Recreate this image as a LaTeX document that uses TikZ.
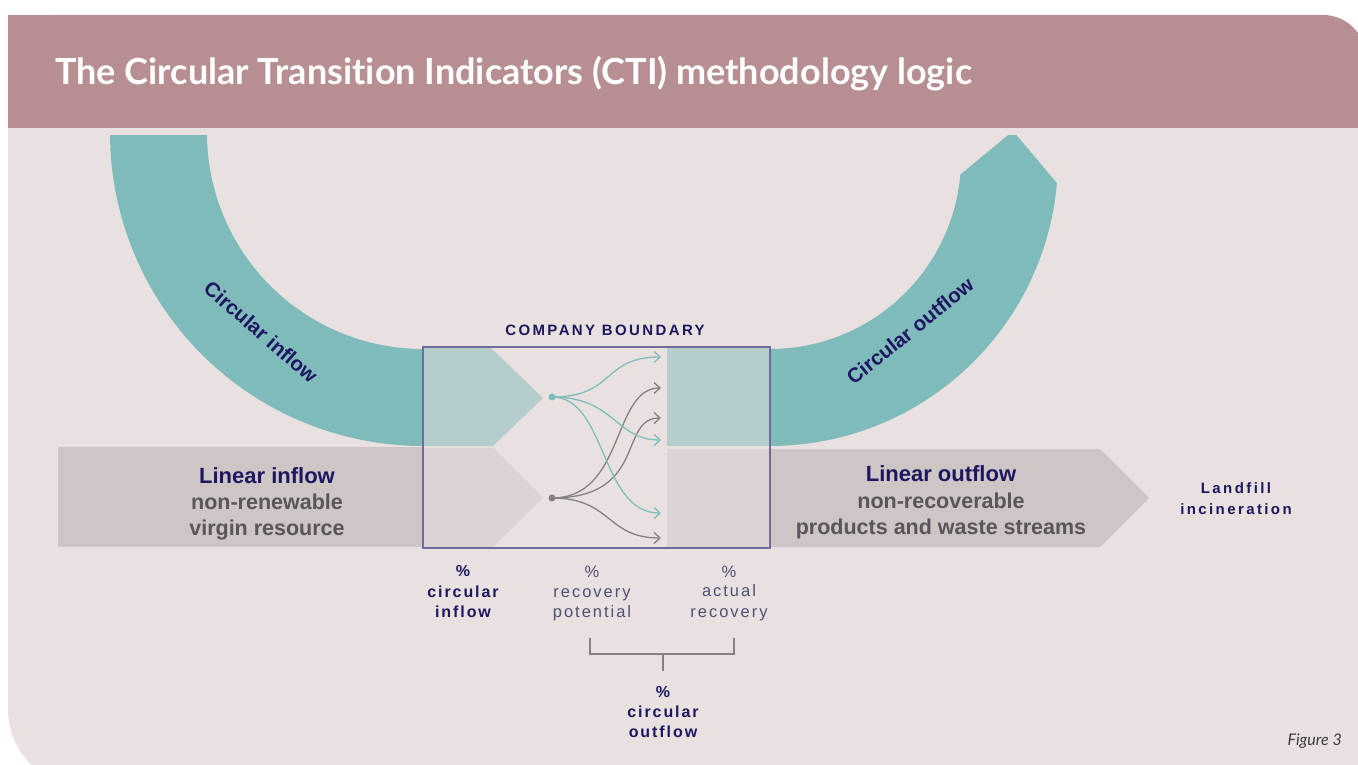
\documentclass[tikz,border=0pt]{standalone}
\usepackage{fontspec}
\setmainfont{Liberation Sans}
\newfontfamily\titlefont[Ligatures=NoCommon]{Lato}
\newfontfamily\spacedfont[LetterSpace=12]{Liberation Sans}
\newfontfamily\widefont[LetterSpace=16]{Liberation Sans}
\usetikzlibrary{arrows.meta,calc}
\definecolor{hdr}{HTML}{B78F93}
\definecolor{bodyc}{HTML}{E9E1E0}
\definecolor{tealc}{HTML}{80BBBB}
\definecolor{ltteal}{HTML}{B6CDCE}
\definecolor{band}{HTML}{CEC5C5}
\definecolor{bandlt}{HTML}{DCD3D3}
\definecolor{navy}{HTML}{1E1660}
\definecolor{graytxt}{HTML}{5A5556}
\definecolor{boxc}{HTML}{6F6B9C}
\definecolor{tline}{HTML}{7FBDBC}
\definecolor{gline}{HTML}{858182}
\definecolor{lblc}{HTML}{514E78}
\definecolor{figc}{HTML}{3A3A3A}
\tikzset{
  txt/.style={inner sep=0pt, anchor=base},
  bignavy/.style={txt, text=navy, font=\bfseries\fontsize{22}{26}\selectfont},
  biggray/.style={txt, text=graytxt, font=\bfseries\fontsize{21.5}{26}\selectfont},
  smallbold/.style={txt, text=navy, font=\spacedfont\bfseries\fontsize{16}{20}\selectfont},
  smalllight/.style={txt, text=lblc, font=\spacedfont\fontsize{16.5}{20}\selectfont},
  widebold/.style={txt, text=navy, font=\widefont\bfseries\fontsize{15}{19}\selectfont},
  arclabel/.style={inner sep=0pt, text=navy, font=\bfseries\fontsize{20.5}{24}\selectfont},
  dotnode/.style={circle, inner sep=0pt, minimum size=7pt},
  tcurve/.style={draw=tline, line width=1.3pt, -{Straight Barb[length=6pt,width=11pt]}},
  gcurve/.style={draw=gline, line width=1.3pt, -{Straight Barb[length=6pt,width=11pt]}},
  bracket/.style={draw=gline, line width=2pt}
}
\begin{document}
\begin{tikzpicture}[x=1pt,y=-1pt]
\useasboundingbox (0,0) rectangle (1358,765);
\fill[white] (0,0) rectangle (1358,765);
% body
\fill[bodyc, rounded corners=75pt] (8,60) rectangle (1420,785);
% header
\fill[hdr, rounded corners=43pt] (8,15) rectangle (1366,128);
\fill[hdr] (8,15) rectangle (120,128);
\fill[hdr] (1250,80) rectangle (1366,128);
\node[txt, anchor=base west, text=white, font=\titlefont\bfseries\fontsize{36}{42}\selectfont] (title) at (55,85) {The Circular Transition Indicators (CTI) methodology logic};

% circular arcs
\begin{scope}
\clip (0,136) rectangle (1358,765);
\fill[tealc] (423,133) ++(185:313) arc[start angle=185,end angle=90,radius=313]
   -- (423,349) arc[start angle=90,end angle=185,radius=216] -- cycle;
\fill[tealc] (770,446) arc[start angle=90,end angle=5,radius=288]
   -- (1013,131) -- (960.3,174.6) arc[start angle=5,end angle=90,radius=191] -- cycle;
\end{scope}

% linear bands
\fill[band] (58,447) rectangle (423,547);
\fill[band] (770,449) -- (1100,449) -- (1149,498) -- (1100,547) -- (770,547) -- cycle;

% inside company boundary
\fill[bodyc] (423,347) rectangle (770,548);
\fill[ltteal] (423,348) -- (491,348) -- (543,398) -- (493,446) -- (423,446) -- cycle;
\fill[bandlt] (423,448) -- (493,448) -- (543,498) -- (493,547) -- (423,547) -- cycle;
\fill[ltteal] (667,348) rectangle (770,446);
\fill[bandlt] (667,449) rectangle (770,547);
\draw[boxc, line width=1.3pt] (423,347) rectangle (770,548);
\node[widebold] (cb) at (605,335) {COMPANY BOUNDARY};

% flows
\node[dotnode, fill=tline] (td) at (552,397) {};
\node[dotnode, fill=gline] (gd) at (552,498) {};
\coordinate (t1) at (661,357);
\coordinate (t2) at (661,440);
\coordinate (t3) at (661,513);
\coordinate (g1) at (661,388);
\coordinate (g2) at (661,418);
\coordinate (g3) at (661,538);
\draw[gcurve] (gd.center) .. controls (625,498) and (612,388) .. (g1);
\draw[gcurve] (gd.center) .. controls (648,498) and (618,418) .. (g2);
\draw[gcurve] (gd.center) .. controls (612,498) and (606,538) .. (g3);
\draw[tcurve] (td.center) .. controls (615,397) and (602,357) .. (t1);
\draw[tcurve] (td.center) .. controls (615,397) and (615,440) .. (t2);
\draw[tcurve] (td.center) .. controls (607,397) and (600,513) .. (t3);

% arc labels
\node[arclabel, rotate=-41] (cin) at (261,332) {Circular inflow};
\node[arclabel, rotate=39] (cout) at (910,331) {Circular outflow};

% linear labels
\node[bignavy] (li1) at (267,483) {Linear inflow};
\node[biggray] (li2) at (267,509) {non-renewable};
\node[biggray] (li3) at (267,535) {virgin resource};
\node[bignavy] (lo1) at (941,481) {Linear outflow};
\node[biggray] (lo2) at (941,508) {non-recoverable};
\node[biggray] (lo3) at (941,534) {products and waste streams};
\node[widebold] (lf1) at (1236,493) {Landfill};
\node[widebold] (lf2) at (1236,514) {incineration};

% indicators
\node[smallbold] (ci1) at (463,576) {\%};
\node[smallbold] (ci2) at (463,597) {circular};
\node[smallbold] (ci3) at (463,617) {inflow};
\node[smalllight] (rp1) at (592,577) {\%};
\node[smalllight] (rp2) at (592,597) {recovery};
\node[smalllight] (rp3) at (592,617) {potential};
\node[smalllight] (ar1) at (729,577) {\%};
\node[smalllight] (ar2) at (729,596) {actual};
\node[smalllight] (ar3) at (729,617) {recovery};

\coordinate (bl) at (590,638);
\coordinate (br) at (734,638);
\coordinate (bm) at (663,654);
\coordinate (bs) at (663,671);
\draw[bracket] (bl) |- (bm) -| (br);
\draw[bracket] (bm) -- (bs);

\node[smallbold] (co1) at (663,697) {\%};
\node[smallbold] (co2) at (663,717) {circular};
\node[smallbold] (co3) at (663,737) {outflow};

\node[txt, anchor=base east, text=figc, font=\titlefont\itshape\fontsize{16}{19}\selectfont] (fig) at (1342,745) {Figure 3};
\end{tikzpicture}
\end{document}
